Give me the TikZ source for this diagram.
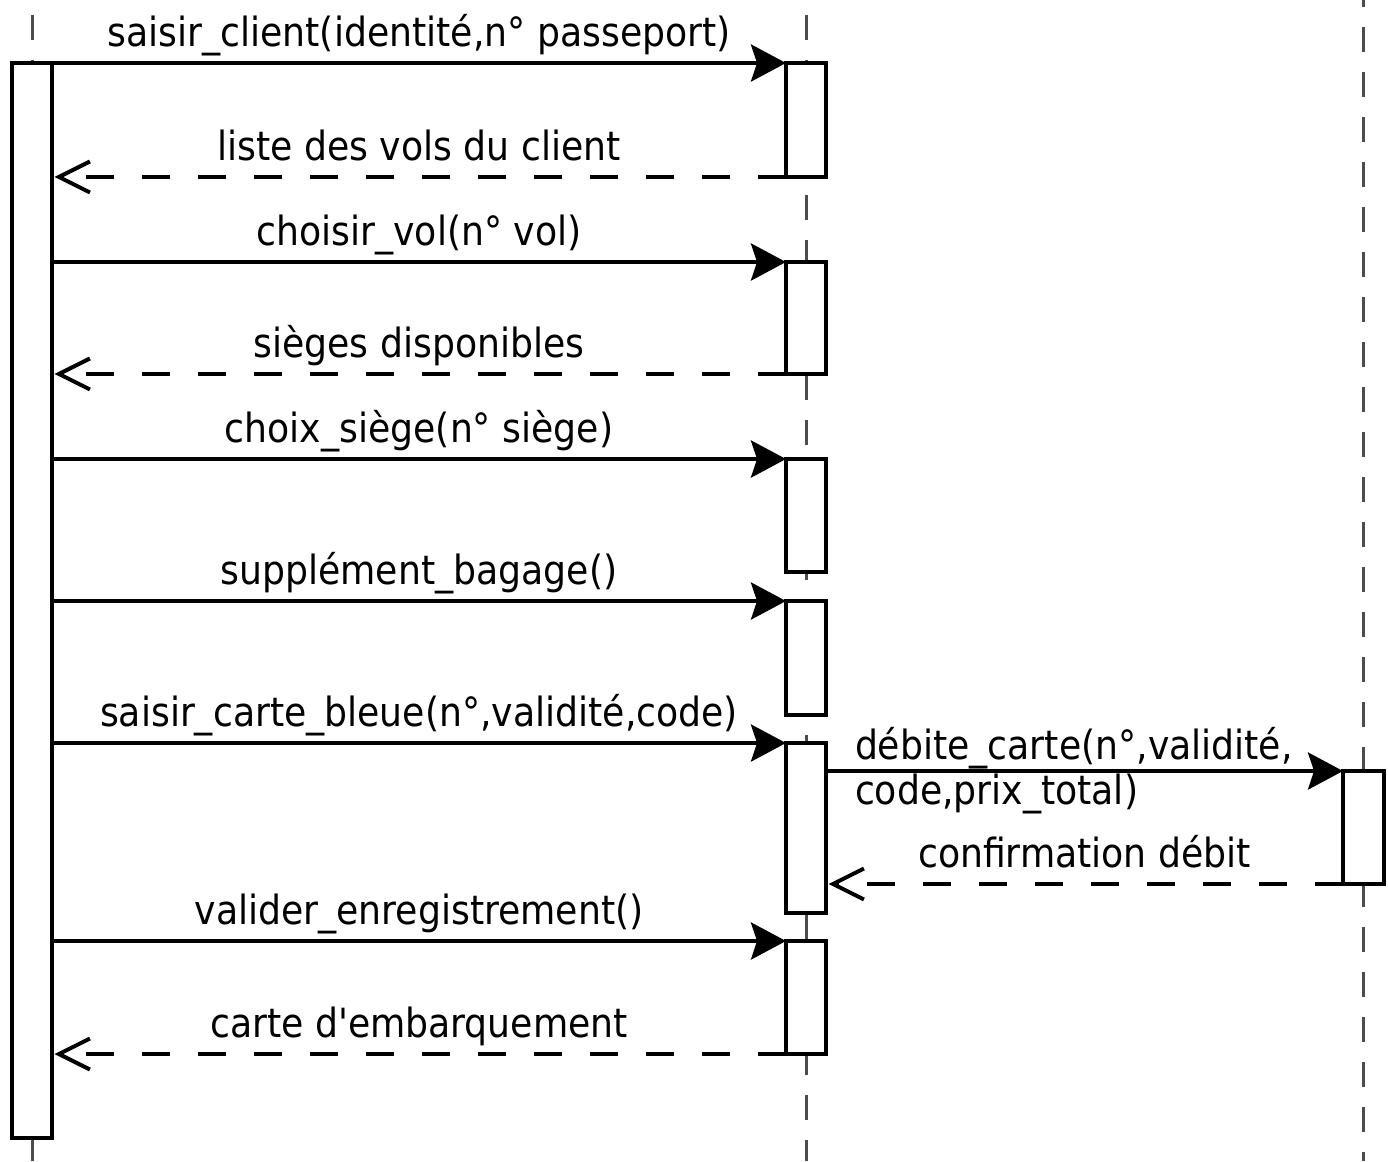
\documentclass[tikz,border=0pt]{standalone}
\usepackage{fontspec}
\setmainfont{DejaVu Sans Condensed}
\usetikzlibrary{arrows.meta}

\begin{document}
\begin{tikzpicture}[x=0.02cm, y=-0.02cm]
\tikzstyle{every node}=[font=\fontsize{22.9}{25.6}\selectfont]
\tikzstyle{act}=[draw, fill=white, line width=0.09cm, rectangle, minimum width=0.8cm, inner sep=0pt, outer sep=0pt, anchor=north]
\tikzstyle{life}=[draw, black!70, line width=0.06cm, dash pattern=on 0.5cm off 0.4cm]
\tikzstyle{call}=[draw, line width=0.08cm, -{Stealth[length=0.7cm, width=0.74cm, inset=0.12cm]}]
\tikzstyle{reply}=[draw, line width=0.08cm, dash pattern=on 0.56cm off 0.56cm, shorten >=0.05cm, -{Straight Barb[length=0.62cm, width=0.62cm]}]
\tikzstyle{msg}=[midway, anchor=base, yshift=0.33cm, inner sep=0pt]

\useasboundingbox (0,0) rectangle (1388,1161);

% lifelines
\path[life] (32,15) -- (32,1161);
\path[life] (806,15) -- (806,1161);
\path[life] (1363,-18) -- (1363,1161);

% activations
\node[act, minimum height=21.5cm](client) at (32,63) {};
\node[act, minimum height=2.28cm](m1) at (806,63) {};
\node[act, minimum height=2.24cm](m2) at (806,262) {};
\node[act, minimum height=2.26cm](m3) at (806,459) {};
\node[act, minimum height=2.28cm](m4) at (806,601) {};
\node[act, minimum height=3.4cm](m5) at (806,743) {};
\node[act, minimum height=2.26cm](m6) at (806,941) {};
\node[act, minimum height=2.26cm, minimum width=0.82cm](bank) at (1363.5,771) {};

% messages
\path[call] (client.east |- m1.north) -- (m1.north west) node[msg]{saisir\_client(identité,n° passeport)};
\path[reply] (m1.south west) -- (client.east |- m1.south) node[msg]{liste des vols du client};
\path[call] (client.east |- m2.north) -- (m2.north west) node[msg]{choisir\_vol(n° vol)};
\path[reply] (m2.south west) -- (client.east |- m2.south) node[msg]{sièges disponibles};
\path[call] (client.east |- m3.north) -- (m3.north west) node[msg]{choix\_siège(n° siège)};
\path[call] (client.east |- m4.north) -- (m4.north west) node[msg]{supplément\_bagage()};
\path[call] (client.east |- m5.north) -- (m5.north west) node[msg]{saisir\_carte\_bleue(n°,validité,code)};
\path[call] (m5.east |- bank.north) -- (bank.north west) node[pos=0, anchor=west, align=left, xshift=0.54cm, inner sep=0pt]{débite\_carte(n°,validité,\\code,prix\_total)};
\path[reply] (bank.south west) -- (m5.east |- bank.south) node[msg]{confirmation débit};
\path[call] (client.east |- m6.north) -- (m6.north west) node[msg]{valider\_enregistrement()};
\path[reply] (m6.south west) -- (client.east |- m6.south) node[msg]{carte d\textquotesingle{}embarquement};

\end{tikzpicture}
\end{document}
